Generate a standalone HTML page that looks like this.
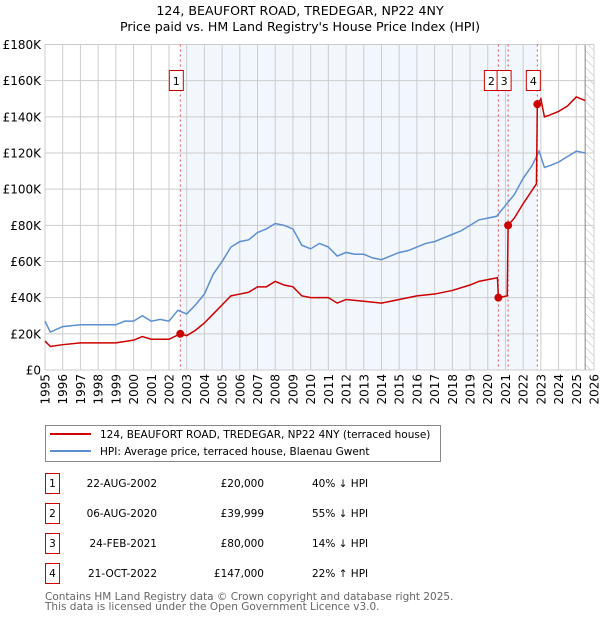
<!DOCTYPE html>
<html><head><meta charset="utf-8"><style>
body{margin:0;background:#fff;font-family:"DejaVu Sans","Liberation Sans",sans-serif;}
svg text{font-family:"DejaVu Sans","Liberation Sans",sans-serif;}
</style></head><body>
<svg id="c" width="600" height="620" xmlns="http://www.w3.org/2000/svg">
<defs><pattern id="hatch" width="6" height="6" patternUnits="userSpaceOnUse" patternTransform="rotate(-45)"><line x1="0" y1="0" x2="0" y2="6" stroke="#bbb" stroke-width="1"/></pattern></defs>
<text x="300" y="15" text-anchor="middle" font-size="12.6">124, BEAUFORT ROAD, TREDEGAR, NP22 4NY</text>
<text x="300" y="31" text-anchor="middle" font-size="12.6">Price paid vs. HM Land Registry's House Price Index (HPI)</text>
<g id="plot"></g>
<g>
<rect x="45.5" y="425.5" width="395" height="36" fill="#fff" stroke="#888"/>
<line x1="50" y1="434" x2="91" y2="434" stroke="#cc0000" stroke-width="2"/>
<text x="100" y="438" font-size="10.5">124, BEAUFORT ROAD, TREDEGAR, NP22 4NY (terraced house)</text>
<line x1="50" y1="451" x2="91" y2="451" stroke="#5b8fd0" stroke-width="2"/>
<text x="100" y="455" font-size="10.5">HPI: Average price, terraced house, Blaenau Gwent</text>
</g>
<g id="table" font-size="10.5"></g>
<text x="45" y="600" font-size="10.5" fill="#666">Contains HM Land Registry data © Crown copyright and database right 2025.</text>
<text x="45" y="610" font-size="10.5" fill="#666">This data is licensed under the Open Government Licence v3.0.</text>
</svg>
<script>
const hpiYears=[1995,1995.3,1996,1997,1998,1999,1999.5,2000,2000.5,2001,2001.5,2002,2002.5,2003,2003.5,2004,2004.5,2005,2005.5,2006,2006.5,2007,2007.5,2008,2008.5,2009,2009.5,2010,2010.5,2011,2011.5,2012,2012.5,2013,2013.5,2014,2014.5,2015,2015.5,2016,2016.5,2017,2017.5,2018,2018.5,2019,2019.5,2020,2020.5,2021,2021.5,2022,2022.5,2022.9,2023.2,2023.5,2024,2024.5,2025,2025.5];
const hpiValues=[27,21,24,25,25,25,27,27,30,27,28,27,33,31,36,42,53,60,68,71,72,76,78,81,80,78,69,67,70,68,63,65,64,64,62,61,63,65,66,68,70,71,73,75,77,80,83,84,85,91,97,106,113,121,112,113,115,118,121,120];
const priceYears=[1995,1995.3,1996,1997,1998,1999,2000,2000.5,2001,2002,2002.64,2003,2003.5,2004,2004.5,2005,2005.5,2006,2006.5,2007,2007.5,2008,2008.5,2009,2009.5,2010,2011,2011.5,2012,2013,2014,2015,2016,2017,2018,2019,2019.5,2020,2020.55,2020.6,2021.1,2021.15,2021.5,2022,2022.75,2022.8,2023.0,2023.2,2023.5,2024,2024.5,2025,2025.5];
const priceValues=[16,13,14,15,15,15,16.5,18.5,17,17,20,19,22,26,31,36,41,42,43,46,46,49,47,46,41,40,40,37,39,38,37,39,41,42,44,47,49,50,51,40,41,80,84,92,103,147,150,140,141,143,146,151,149];
const saleLabels=["1","2","3","4"];
const saleYears=[2002.64,2020.6,2021.15,2022.8];
const saleValues=[20,40,80,147];
const saleDates=["22-AUG-2002","06-AUG-2020","24-FEB-2021","21-OCT-2022"];
const salePrices=["£20,000","£39,999","£80,000","£147,000"];
const saleHpi=["40% ↓ HPI","55% ↓ HPI","14% ↓ HPI","22% ↑ HPI"];
const yTicks=[0,20,40,60,80,100,120,140,160,180];
const yTickLabels=["£0","£20K","£40K","£60K","£80K","£100K","£120K","£140K","£160K","£180K"];
const xTicks=[1995,1996,1997,1998,1999,2000,2001,2002,2003,2004,2005,2006,2007,2008,2009,2010,2011,2012,2013,2014,2015,2016,2017,2018,2019,2020,2021,2022,2023,2024,2025,2026];
const NS="http://www.w3.org/2000/svg";
const L=45,R=594,T=44.5,B=370,X0=1995,X1=2026,YMAX=180;
const xs=v=>L+(v-X0)/(X1-X0)*(R-L);
const ys=v=>B-v/YMAX*(B-T);
const plot=document.getElementById('plot');
function mk(tag,attrs,parent){const e=document.createElementNS(NS,tag);for(const k in attrs)e.setAttribute(k,attrs[k]);(parent||plot).appendChild(e);return e;}
let e;
e=mk('rect',{x:xs(saleYears[0]),y:T,width:xs(saleYears[3])-xs(saleYears[0]),height:B-T,fill:'#f2f6fd'});


e=mk('rect',{x:xs(2025.5),y:T,width:R-xs(2025.5),height:B-T,fill:'url(#hatch)'});


yTicks.forEach((t,i)=>{
 mk('line',{x1:L,x2:R,y1:ys(t),y2:ys(t),stroke:'#ccc','stroke-width':1});
 e=mk('text',{x:L-4,y:ys(t)+4.5,'text-anchor':'end','font-size':12});
 e.textContent=yTickLabels[i];
 
 
});
xTicks.forEach(t=>{
 mk('line',{x1:xs(t),x2:xs(t),y1:T,y2:B,stroke:'#ccc','stroke-width':1});
 e=mk('text',{x:0,y:0,'text-anchor':'end','font-size':12,transform:`translate(${xs(t)+4.5},${B+4}) rotate(-90)`});
 e.textContent=t;
 
 
});
mk('line',{x1:xs(2025.5),x2:xs(2025.5),y1:T,y2:B,stroke:'#888','stroke-width':1});
mk('rect',{x:L,y:T,width:R-L,height:B-T,fill:'none',stroke:'#ccc'});
saleYears.forEach((y,i)=>{
 e=mk('line',{x1:xs(y),x2:xs(y),y1:T,y2:B,stroke:'#e05050','stroke-dasharray':'2,3','stroke-width':1});
 
 
});
e=mk('polyline',{points:hpiYears.map((y,i)=>xs(y)+','+ys(hpiValues[i])).join(' '),fill:'none',stroke:'#5b8fd0','stroke-width':1.5});


e=mk('polyline',{points:priceYears.map((y,i)=>xs(y)+','+ys(priceValues[i])).join(' '),fill:'none',stroke:'#cc0000','stroke-width':1.5});


const boxX=[-4,-7,-4,-4];
saleYears.forEach((y,i)=>{
 e=mk('circle',{cx:xs(y),cy:ys(saleValues[i]),r:4,fill:'#cc0000'});
 
 
 const bx=xs(y)+boxX[i];
 e=mk('rect',{x:bx-7,y:70.5,width:14,height:20,fill:'#fff',stroke:'#cc0000'});
 
 
 e=mk('text',{x:bx,y:85,'text-anchor':'middle','font-size':11});
 e.textContent=saleLabels[i];
 
 
});
const tbl=document.getElementById('table');
saleLabels.forEach((s,i)=>{
 const cy=483+30*i;
 e=mk('rect',{x:45.5,y:cy-9.5,width:14,height:20,fill:'#fff',stroke:'#cc0000'},tbl);
 
 
 e=mk('text',{x:52.5,y:cy+4,'text-anchor':'middle'},tbl);e.textContent=s;
 
 
 e=mk('text',{x:157,y:cy+4,'text-anchor':'end'},tbl);e.textContent=saleDates[i];
 
 
 e=mk('text',{x:264,y:cy+4,'text-anchor':'end'},tbl);e.textContent=salePrices[i];
 
 
 e=mk('text',{x:312,y:cy+4},tbl);e.textContent=saleHpi[i];
 
 
});
</script>
</body></html>
